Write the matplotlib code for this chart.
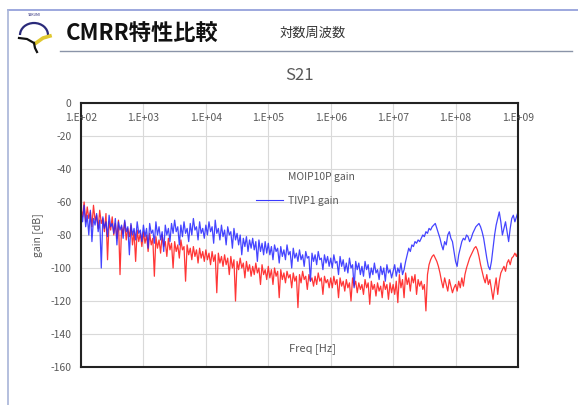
import numpy as np
import matplotlib.pyplot as plt
from matplotlib.lines import Line2D
from matplotlib.patches import Arc

plt.rcParams['font.family'] = ['Noto Sans CJK JP', 'DejaVu Sans']

# gain [dB], 40 points per decade from 1e2 to 1e9
moip10p_gain = [
    -64, -69, -60, -72, -63, -70, -66, -75, -62, -71,
    -68, -76, -65, -73, -70, -78, -67, -95, -72, -77,
    -69, -80, -73, -82, -71, -104, -75, -79, -72, -83,
    -76, -81, -74, -86, -78, -96, -77, -84, -79, -87,
    -78, -85, -80, -90, -79, -86, -82, -105, -81, -88,
    -83, -91, -80, -87, -84, -93, -82, -89, -85, -100,
    -84, -90, -86, -94, -83, -89, -87, -108, -86, -92,
    -88, -95, -87, -93, -89, -97, -88, -94, -90, -96,
    -89, -95, -91, -98, -90, -96, -92, -115, -91, -97,
    -93, -99, -92, -98, -94, -104, -93, -100, -95, -120,
    -96, -101, -94, -100, -97, -106, -96, -102, -98, -105,
    -99, -104, -97, -103, -100, -110, -98, -104, -101, -107,
    -99, -106, -101, -110, -100, -105, -102, -118, -101, -107,
    -103, -109, -102, -106, -104, -112, -103, -108, -105, -124,
    -104, -109, -102, -107, -105, -113, -104, -108, -106, -111,
    -105, -110, -103, -108, -106, -116, -105, -109, -107, -112,
    -106, -112, -105, -110, -107, -118, -106, -111, -108, -114,
    -107, -112, -109, -120, -106, -111, -108, -115, -109, -113,
    -110, -116, -107, -112, -109, -122, -108, -113, -110, -117,
    -109, -114, -111, -118, -108, -113, -110, -119, -109, -115,
    -110, -116, -108, -121, -104, -112, -107, -118, -103, -110,
    -106, -114, -105, -109, -104, -116, -107, -111, -108, -113,
    -110, -126, -104, -98, -95, -93, -92, -94, -96, -99,
    -103, -108, -112, -106, -110, -114, -107, -111, -115, -112,
    -110, -114, -108, -112, -106, -111, -104, -100, -97, -94,
    -92, -90, -88, -87, -89, -93, -98, -102, -106, -109,
    -104, -110, -107, -113, -119, -112, -106, -116, -108, -103,
    -101, -99, -102, -97, -95, -98, -94, -93, -91, -93,
    -90,
]
tivp1_gain = [
    -66, -72, -62, -75, -68, -80, -65, -84, -70, -74,
    -67, -78, -71, -100, -69, -76, -72, -81, -68, -75,
    -73, -79, -70, -86, -72, -77, -74, -82, -71, -78,
    -75, -92, -73, -80, -76, -83, -72, -79, -77, -84,
    -74, -81, -76, -88, -73, -79, -77, -85, -72, -80,
    -75, -83, -78, -90, -74, -80, -76, -84, -73, -79,
    -71, -78, -75, -86, -74, -81, -72, -79, -76, -84,
    -73, -80, -70, -77, -75, -83, -72, -79, -76, -82,
    -74, -80, -72, -78, -75, -85, -71, -79, -76, -83,
    -74, -81, -77, -86, -75, -80, -78, -88, -76, -83,
    -79, -86, -80, -92, -82, -87, -81, -90, -83, -88,
    -82, -89, -84, -96, -83, -90, -85, -92, -84, -91,
    -85, -92, -87, -95, -86, -90, -88, -97, -87, -93,
    -89, -95, -86, -92, -90, -100, -88, -94, -91, -96,
    -89, -95, -92, -99, -90, -94, -93, -108, -91, -96,
    -92, -98, -90, -95, -94, -101, -92, -97, -93, -99,
    -94, -100, -92, -97, -96, -104, -93, -99, -95, -102,
    -97, -103, -94, -100, -98, -112, -96, -101, -97, -104,
    -99, -105, -96, -101, -98, -106, -100, -104, -97, -103,
    -101, -107, -99, -104, -100, -108, -98, -103, -101, -106,
    -102, -98, -105, -100, -103, -97, -104, -101, -96, -92,
    -88, -90, -86, -87, -84, -85, -83, -84, -82, -80,
    -81, -78, -79, -76, -77, -75, -74, -73, -76, -79,
    -82, -86, -89, -84, -86, -80, -78, -82, -84, -90,
    -96, -99, -92, -88, -84, -82, -83, -80, -81, -84,
    -82, -79, -77, -75, -74, -73, -75, -78, -82, -88,
    -94, -99, -101, -96, -88, -80, -74, -70, -66, -72,
    -80, -76, -72, -78, -84, -76, -70, -68, -72, -69,
    -66,
]
freq = np.logspace(2, 9, len(tivp1_gain))

decades = [1e2, 1e3, 1e4, 1e5, 1e6, 1e7, 1e8, 1e9]
decade_labels = ['1.E+02', '1.E+03', '1.E+04', '1.E+05', '1.E+06', '1.E+07', '1.E+08', '1.E+09']
gain_ticks = [0, -20, -40, -60, -80, -100, -120, -140, -160]

W, H = 578, 405
fig = plt.figure(figsize=(W / 100, H / 100), dpi=100)

# slide decoration (pixel coordinates)
deco = fig.add_axes([0, 0, 1, 1], zorder=-1)
deco.set_xlim(0, W)
deco.set_ylim(H, 0)
deco.axis('off')
deco.plot([8, W], [10, 10], color='#8c9ad8', lw=1.2)
deco.plot([8, 8], [10, H], color='#a8b4d8', lw=1.2)
deco.plot([60, 572], [51, 51], color='#8a94a8', lw=1.0)
# logo
deco.add_patch(Arc((34, 35), 28, 24, theta1=180, theta2=360, color='#2a2a7a', lw=1.6))
deco.plot([19, 27, 34], [38, 39, 43], color='#111111', lw=1.6)
deco.plot([50, 43, 36], [36, 38, 43], color='#e0c830', lw=2.6)
deco.plot([34, 35, 37], [43, 48, 52], color='#111111', lw=1.6)
deco.text(34, 15, 'TAKUMI', fontsize=2.5, ha='center', va='center', color='#2a2a7a')

deco.text(66, 33, 'CMRR特性比較', fontsize=16, fontweight='bold', va='center', color='#111111')
deco.text(280, 33, '対数周波数', fontsize=9.5, va='center', color='#333333')
deco.text(300, 76, 'S21', fontsize=12, ha='center', va='center', color='#595959')
deco.text(38, 235, 'gain [dB]', fontsize=7.5, rotation=90, ha='center', va='center', color='#595959')

ax = fig.add_axes([81 / W, 1 - 367 / H, (518 - 81) / W, (367 - 103) / H])
ax.plot(freq, moip10p_gain, color='#ff2020', lw=0.9, alpha=0.9)
ax.plot(freq, tivp1_gain, color='#2424ff', lw=0.9, alpha=0.85)

ax.set_xscale('log')
ax.set_xlim(1e2, 1e9)
ax.set_ylim(-160, 0)
ax.set_xticks(decades)
ax.set_xticklabels([])
ax.xaxis.set_minor_locator(plt.NullLocator())
ax.set_yticks(gain_ticks)
ax.set_yticklabels([str(v) for v in gain_ticks])
ax.tick_params(axis='both', length=0, labelsize=7.5, labelcolor='#595959')
ax.tick_params(axis='y', pad=7)
ax.grid(True, color='#d9d9d9', lw=0.8)
ax.set_axisbelow(True)
for s in ax.spines.values():
    s.set_color('#222222')
    s.set_linewidth(1.5)

for f, lab in zip(decades, decade_labels):
    ax.text(f, -9, lab, ha='center', va='center', fontsize=7.5, color='#595959')
ax.text(10 ** 5.7, -149, 'Freq [Hz]', ha='center', va='center', fontsize=8, color='#595959')

handles = [Line2D([], [], color='none'), Line2D([], [], color='#3a3aff', lw=0.8)]
ax.legend(handles, ['MOIP10P gain', 'TIVP1 gain'], loc='upper left',
          bbox_to_anchor=(256 / W, 1 - 172 / H), bbox_transform=fig.transFigure,
          frameon=False, fontsize=7.5, labelspacing=1.3, handlelength=2.6,
          handletextpad=0.5, borderpad=0, borderaxespad=0, labelcolor='#595959')

fig.savefig('out.png', dpi=100)
